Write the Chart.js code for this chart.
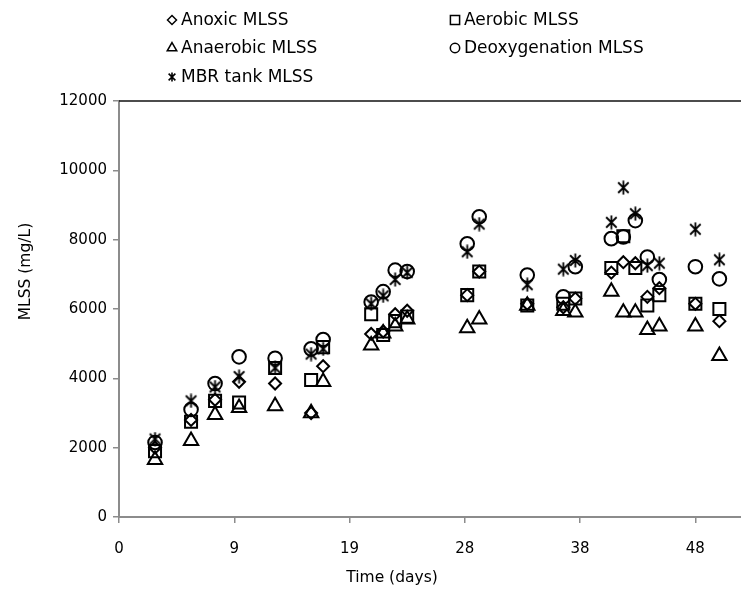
<!DOCTYPE html>
<html>
<head>
<meta charset="utf-8">
<script src="https://cdn.jsdelivr.net/npm/chart.js@4.4.0/dist/chart.umd.min.js"></script>
<style>
  html, body { margin: 0; padding: 0; background: #fff; }
  #wrap { width: 741px; height: 602px; }
</style>
</head>
<body>
<div id="wrap"><canvas id="chart" width="741" height="602"></canvas></div>
<script>
// sampling days and MLSS (mg/L) per tank
const days          = [3, 6, 8, 10, 13, 16, 17, 21, 22, 23, 24, 29, 30, 34, 37, 38, 41, 42, 43, 44, 45, 48, 50];
const anoxic        = [2000, 2800, 3380, 3900, 3850, 3000, 4350, 5280, 5350, 5850, 5950, 6400, 7080, 6150, 6050, 6300, 7050, 7350, 7320, 6350, 6600, 6150, 5650];
const aerobic       = [1900, 2750, 3350, 3300, 4300, 3950, 4900, 5850, 5250, 5650, 5780, 6400, 7080, 6100, 6150, 6300, 7180, 8100, 7180, 6100, 6400, 6150, 6000];
const anaerobic     = [1650, 2200, 2950, 3150, 3200, 3000, 3900, 4950, 5300, 5500, 5700, 5450, 5700, 6100, 5950, 5900, 6500, 5900, 5900, 5400, 5500, 5500, 4650];
const deoxygenation = [2150, 3100, 3850, 4620, 4580, 4850, 5120, 6200, 6500, 7120, 7080, 7880, 8660, 6980, 6350, 7220, 8030, 8080, 8550, 7500, 6850, 7220, 6870];
const mbrTank       = [2250, 3350, 3750, 4050, 4300, 4700, 4850, 6150, 6380, 6850, 7050, 7650, 8450, 6700, 7150, 7400, 8500, 9500, 8750, 7250, 7320, 8300, 7420];

const seriesLabels = ['Anoxic MLSS', 'Aerobic MLSS', 'Anaerobic MLSS', 'Deoxygenation MLSS', 'MBR tank MLSS'];
const xTicks = [0, 9.6, 19.2, 28.8, 38.4, 48];
const yStep = 2000;

const FONT = 'DejaVu Sans';
const AXIS_GREY = '#8c8c8c';

// excel-like asterisk: vertical bar plus an X
function makeStar(size, lw) {
  const c = document.createElement('canvas');
  c.width = c.height = size;
  const g = c.getContext('2d');
  const m = size / 2, r = size / 2 - 0.5, d = r * 0.75;
  g.strokeStyle = '#000';
  g.lineWidth = lw;
  g.beginPath();
  g.moveTo(m, m - r); g.lineTo(m, m + r);
  g.moveTo(m - d, m - d); g.lineTo(m + d, m + d);
  g.moveTo(m + d, m - d); g.lineTo(m - d, m + d);
  g.stroke();
  return c;
}
const starBig = makeStar(15, 1.8);
const starSmall = makeStar(10, 1.6);

function toPoints(vals) {
  return days.map((d, i) => ({ x: d, y: vals[i] }));
}

const markers = [
  { style: 'rectRot',  radius: 6,   legendRadius: 4.5 },
  { style: 'rect',     radius: 8.5, legendRadius: 6.5 },
  { style: 'triangle', radius: 8.3, legendRadius: 5.5 },
  { style: 'circle',   radius: 6.8, legendRadius: 4.7 },
  { style: starBig,    radius: 7,   legendRadius: 5, legendStyle: starSmall }
];

const datasets = [anoxic, aerobic, anaerobic, deoxygenation, mbrTank].map((vals, i) => ({
  label: seriesLabels[i],
  data: toPoints(vals),
  pointStyle: markers[i].style,
  pointRadius: markers[i].radius,
  pointHoverRadius: markers[i].radius,
  pointBorderWidth: 2,
  pointBorderColor: '#000',
  pointBackgroundColor: 'rgba(0,0,0,0)',
  showLine: false
}));

// two column legend above the plot, plus the axis titles and the top border
const decorations = {
  id: 'decorations',
  afterDraw(chart) {
    const ctx = chart.ctx;
    const area = chart.chartArea;
    ctx.save();

    ctx.strokeStyle = '#111';
    ctx.lineWidth = 1.5;
    ctx.beginPath();
    ctx.moveTo(area.left, area.top);
    ctx.lineTo(area.right, area.top);
    ctx.stroke();

    ctx.font = '17px "' + FONT + '"';
    ctx.textBaseline = 'middle';
    ctx.textAlign = 'left';
    const cols = [172, 455];
    const rows = [20, 48, 77];
    chart.data.datasets.forEach((ds, i) => {
      const mx = cols[i % 2], my = rows[Math.floor(i / 2)];
      const mk = markers[i];
      ctx.fillStyle = 'rgba(0,0,0,0)';
      ctx.strokeStyle = '#000';
      Chart.helpers.drawPoint(ctx, {
        pointStyle: mk.legendStyle || mk.style,
        radius: mk.legendRadius,
        borderWidth: 1.7,
        rotation: 0
      }, mx, my);
      ctx.fillStyle = '#000';
      ctx.fillText(ds.label, mx + 9, my + 1);
    });

    ctx.font = '15.5px "' + FONT + '"';
    ctx.textAlign = 'center';
    ctx.fillText('Time (days)', 392, 578);

    ctx.translate(26, area.top + (area.bottom - area.top) * 0.41);
    ctx.rotate(-Math.PI / 2);
    ctx.fillText('MLSS (mg/L)', 0, 0);
    ctx.restore();
  }
};

new Chart(document.getElementById('chart'), {
  type: 'scatter',
  data: { datasets: datasets },
  plugins: [decorations],
  options: {
    responsive: false,
    animation: false,
    devicePixelRatio: 1,
    layout: { autoPadding: false, padding: { top: 101, right: 0, left: 0, bottom: 0 } },
    plugins: {
      legend: { display: false },
      tooltip: { enabled: false }
    },
    scales: {
      x: {
        type: 'linear',
        min: 0,
        max: 51.8,
        afterBuildTicks: scale => { scale.ticks = xTicks.map(v => ({ value: v })); },
        afterFit: scale => {
          scale.height = 85;
          scale.paddingLeft = 0;
          scale.paddingRight = 0;
        },
        ticks: {
          callback: v => Math.floor(v),
          font: { family: FONT, size: 15 },
          color: '#000',
          padding: 17,
          maxRotation: 0
        },
        grid: { drawOnChartArea: false, drawTicks: true, tickLength: 6, color: AXIS_GREY, lineWidth: 1.5 },
        border: { color: AXIS_GREY, width: 2 }
      },
      y: {
        min: 0,
        max: 12000,
        afterFit: scale => { scale.width = 119; },
        ticks: {
          stepSize: yStep,
          callback: v => String(v),
          font: { family: FONT, size: 15 },
          color: '#000',
          padding: 6
        },
        grid: { drawOnChartArea: false, drawTicks: true, tickLength: 6, color: AXIS_GREY, lineWidth: 1.5 },
        border: { color: AXIS_GREY, width: 2 }
      }
    }
  }
});
</script>
</body>
</html>
